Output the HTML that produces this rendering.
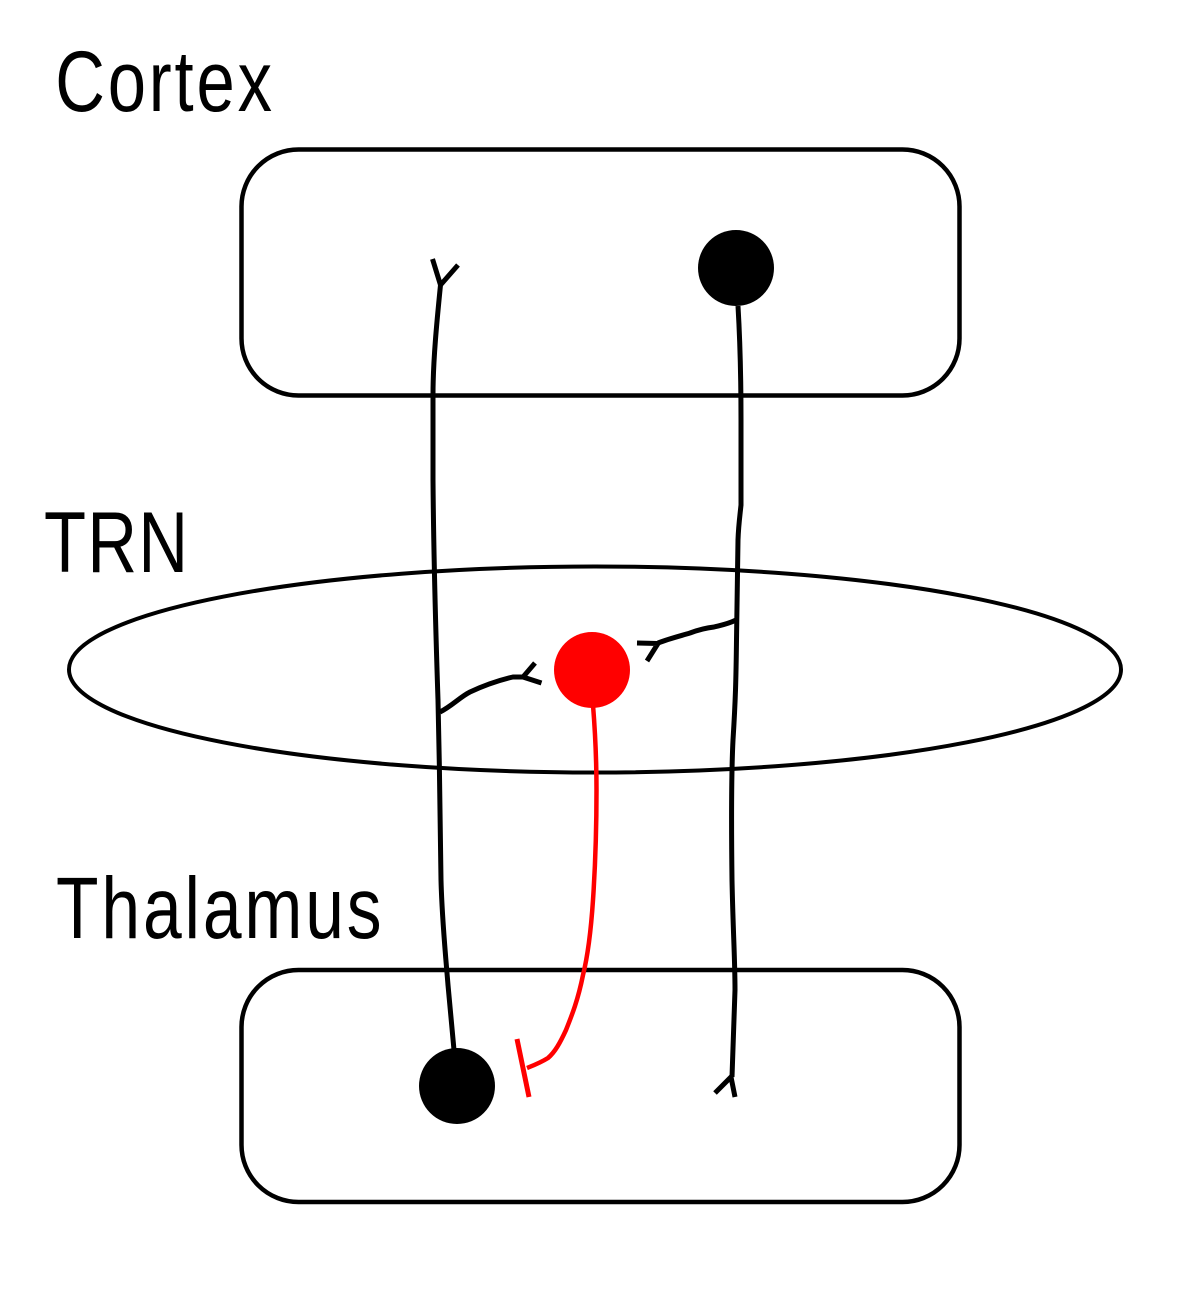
<!DOCTYPE html>
<html>
<head>
<meta charset="utf-8">
<style>
  html, body { margin: 0; padding: 0; background: #fff; }
  svg { display: block; }
  text { font-family: "Liberation Sans", sans-serif; fill: #000; }
</style>
</head>
<body>
<svg width="1201" height="1291" viewBox="0 0 1201 1291" xmlns="http://www.w3.org/2000/svg">
  <rect x="0" y="0" width="1201" height="1291" fill="#fff"/>

  <!-- Labels (horizontally condensed) -->
  <g transform="scale(0.8,1)">
    <text x="69" y="111" font-size="86" textLength="271" lengthAdjust="spacing">Cortex</text>
    <text x="55" y="572" font-size="86" textLength="180" lengthAdjust="spacing">TRN</text>
    <text x="70" y="938" font-size="87" textLength="407" lengthAdjust="spacing">Thalamus</text>
  </g>

  <!-- Cortex box -->
  <rect x="241.5" y="149.5" width="718" height="246" rx="57" ry="57" fill="none" stroke="#000" stroke-width="4.5"/>
  <!-- Thalamus box -->
  <rect x="241.5" y="970" width="718" height="232" rx="57" ry="57" fill="none" stroke="#000" stroke-width="4.5"/>
  <!-- TRN ellipse -->
  <ellipse cx="595" cy="669.5" rx="526" ry="103" fill="none" stroke="#000" stroke-width="4"/>

  <!-- Left axon -->
  <path d="M440.5,285 C437,320 433,360 433,395 L433,480 C433.5,540 436,640 438,700 C439.5,760 440.5,840 441,880 C442,920 446,960 448,985 L454,1050"
        fill="none" stroke="#000" stroke-width="5"/>
  <path d="M432.5,259 L440.5,285 L458,265" fill="none" stroke="#000" stroke-width="5"/>

  <!-- Left branch to red soma -->
  <path d="M440,712 C452,706 460,697 470,692 C485,685 500,680 513,677 L523,677" fill="none" stroke="#000" stroke-width="5"/>
  <path d="M535,663 L523,677 L541.5,683" fill="none" stroke="#000" stroke-width="5"/>

  <!-- Right axon -->
  <path d="M738,306 C740,340 741,380 741,420 L741,505 C740,515 738.5,525 738,540 C737.5,580 737,610 736.5,640 C736,680 735.5,700 733,740 C731,780 731.5,840 732,880 C733,930 735,960 735,990 L732,1077"
        fill="none" stroke="#000" stroke-width="5"/>
  <path d="M715,1093 L731,1077 L735,1097" fill="none" stroke="#000" stroke-width="5"/>

  <!-- Right branch to red soma -->
  <path d="M736,620 C728,624 722,625 714,627 C705,628 698,630 690,633 C680,636 668,639 658,643" fill="none" stroke="#000" stroke-width="5"/>
  <path d="M637,643 L658,643.5 L647,661" fill="none" stroke="#000" stroke-width="5"/>

  <!-- Somata -->
  <circle cx="736" cy="268" r="38" fill="#000"/>
  <circle cx="457" cy="1086" r="38" fill="#000"/>

  <!-- Red TRN soma and axon -->
  <path d="M593,705 C595,730 596.5,760 596.5,790 C596.5,830 595,870 593,900 C591,930 588,955 583,975 C578,1000 572,1015 566,1030 C560,1043 555,1052 548,1058 C540,1063 532,1066 527,1068"
        fill="none" stroke="#ff0000" stroke-width="4.5"/>
  <path d="M517,1039 L529,1097" fill="none" stroke="#ff0000" stroke-width="5"/>
  <circle cx="592" cy="670" r="38" fill="#ff0000"/>
</svg>
</body>
</html>
